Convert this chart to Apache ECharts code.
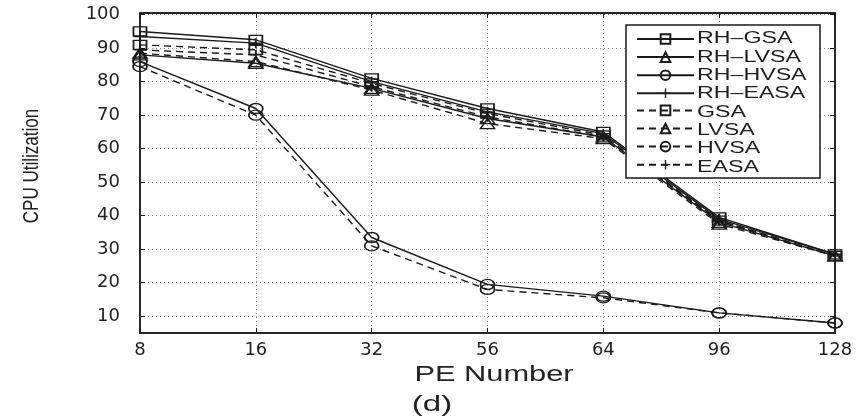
<!DOCTYPE html>
<html>
<head>
<meta charset="utf-8">
<script src="https://cdn.jsdelivr.net/npm/echarts@6/dist/echarts.min.js"></script>
<style>
html,body{margin:0;padding:0;background:#fff;}
#c{width:866px;height:419px;}
</style>
</head>
<body>
<div id="c"></div>
<script>
const categories = ['8', '16', '32', '56', '64', '96', '128'];
const yTicks = [10, 20, 30, 40, 50, 60, 70, 80, 90, 100];
const seriesNames = ['RH\u2013GSA', 'RH\u2013LVSA', 'RH\u2013HVSA', 'RH\u2013EASA', 'GSA', 'LVSA', 'HVSA', 'EASA'];

const rhGSA  = [95, 92.5, 81, 72, 65, 39.5, 28.5];
const rhLVSA = [88, 85.5, 78, 69, 63.5, 38, 28];
const rhHVSA = [86, 72, 33.5, 19.5, 16, 11, 8];
const rhEASA = [93.5, 91.5, 80, 71, 64.5, 39, 28.5];
const gsa    = [91, 89.5, 79.5, 70.5, 64, 38.5, 28];
const lvsa   = [88.5, 86, 77.5, 67.5, 63, 37.5, 28];
const hvsa   = [84.5, 70, 31, 18, 15.5, 11, 8];
const easa   = [89.5, 88, 78.5, 69.5, 63.5, 38.5, 28];

const CROSS = 'path://M4.3,0H5.7V4.3H10V5.7H5.7V10H4.3V5.7H0V4.3H4.3Z';
const FONT = 'Liberation Sans, Arial, Helvetica, sans-serif';
const INK = '#1a1a1a';

function mk(name, data, symbol, dashed) {
  const isCross = symbol === CROSS;
  let size = [13, 9];
  if (symbol === 'circle') size = [14, 10];
  if (symbol === 'triangle') size = [14, 10];
  if (isCross) size = [13, 10];
  return {
    name: name,
    type: 'line',
    data: data,
    symbol: symbol,
    symbolSize: size,
    showSymbol: true,
    lineStyle: { color: INK, width: 1.4, type: dashed ? [7, 5] : 'solid' },
    itemStyle: isCross
      ? { color: INK, borderWidth: 0 }
      : { color: 'rgba(255,255,255,0)', borderColor: INK, borderWidth: 1.5 },
    emphasis: { disabled: true },
    z: 3
  };
}

const legendTop = 33, legendStep = 18.3;
const legendTexts = seriesNames.map((n, i) => ({
  type: 'text',
  x: 697, y: legendTop + 6 + legendStep * i,
  scaleX: 1.45,
  z: 30,
  style: { text: n, fontSize: 16, fill: '#1e1e1e', fontFamily: FONT, verticalAlign: 'middle', align: 'left' }
}));

const chart = echarts.init(document.getElementById('c'));
chart.setOption({
  animation: false,
  backgroundColor: '#fff',
  textStyle: { fontFamily: FONT },
  grid: { left: 140, right: 31, top: 13, bottom: 86, show: true, borderColor: INK, borderWidth: 1.5 },
  legend: {
    orient: 'vertical',
    left: 636, top: legendTop,
    padding: 0,
    itemWidth: 57, itemHeight: 12,
    itemGap: legendStep - 12,
    z: 20,
    formatter: function () { return ''; },
    textStyle: { fontSize: 12 },
    data: seriesNames
  },
  xAxis: [{
    type: 'category',
    data: categories,
    boundaryGap: false,
    axisLine: { lineStyle: { color: INK, width: 1.5 } },
    axisTick: { show: true, inside: true, length: 5, alignWithLabel: true, lineStyle: { color: INK } },
    axisLabel: { fontSize: 18, color: '#222', margin: 8, fontFamily: 'DejaVu Sans' },
    splitLine: { show: true, lineStyle: { color: '#888', type: [1, 3], width: 1 } }
  }, {
    type: 'category',
    position: 'top',
    data: categories,
    boundaryGap: false,
    axisLine: { lineStyle: { color: INK, width: 1.5 } },
    axisTick: { show: true, inside: true, length: 5, lineStyle: { color: INK } },
    axisLabel: { show: false },
    splitLine: { show: false }
  }],
  yAxis: [{
    type: 'value',
    min: 5, max: 100.5,
    axisLine: { show: true, lineStyle: { color: INK, width: 1.5 } },
    axisTick: { show: true, inside: true, length: 5, customValues: yTicks, lineStyle: { color: INK } },
    axisLabel: { fontSize: 18, color: '#222', margin: 20, align: 'right', customValues: yTicks, fontFamily: 'DejaVu Sans' },
    splitLine: { show: true, lineStyle: { color: '#888', type: [1, 3], width: 1 } }
  }, {
    type: 'value',
    position: 'right',
    min: 5, max: 100.5,
    axisLine: { show: true, lineStyle: { color: INK, width: 1.5 } },
    axisTick: { show: true, inside: true, length: 5, customValues: yTicks, lineStyle: { color: INK } },
    axisLabel: { show: false },
    splitLine: { show: false }
  }],
  graphic: [
    {
      type: 'rect', z: 10,
      shape: { x: 626, y: 25, width: 194, height: 153 },
      style: { fill: '#fff', stroke: INK, lineWidth: 1.5 }
    },
    {
      type: 'text', x: 494, y: 375, scaleX: 1.4,
      style: { text: 'PE Number', fontSize: 22, fill: '#222', fontFamily: FONT, align: 'center', verticalAlign: 'middle' }
    },
    {
      type: 'text', x: 432, y: 405, scaleX: 1.5,
      style: { text: '(d)', fontSize: 22, fill: '#222', fontFamily: FONT, align: 'center', verticalAlign: 'middle' }
    },
    {
      type: 'text', x: 32, y: 166, rotation: Math.PI / 2, scaleY: 1.35,
      style: { text: 'CPU Utilization', fontSize: 17, fill: '#222', fontFamily: FONT, align: 'center', verticalAlign: 'middle' }
    }
  ].concat(legendTexts),
  series: [
    mk(seriesNames[0], rhGSA, 'rect', false),
    mk(seriesNames[1], rhLVSA, 'triangle', false),
    mk(seriesNames[2], rhHVSA, 'circle', false),
    mk(seriesNames[3], rhEASA, CROSS, false),
    mk(seriesNames[4], gsa, 'rect', true),
    mk(seriesNames[5], lvsa, 'triangle', true),
    mk(seriesNames[6], hvsa, 'circle', true),
    mk(seriesNames[7], easa, CROSS, true)
  ]
});
</script>
</body>
</html>
